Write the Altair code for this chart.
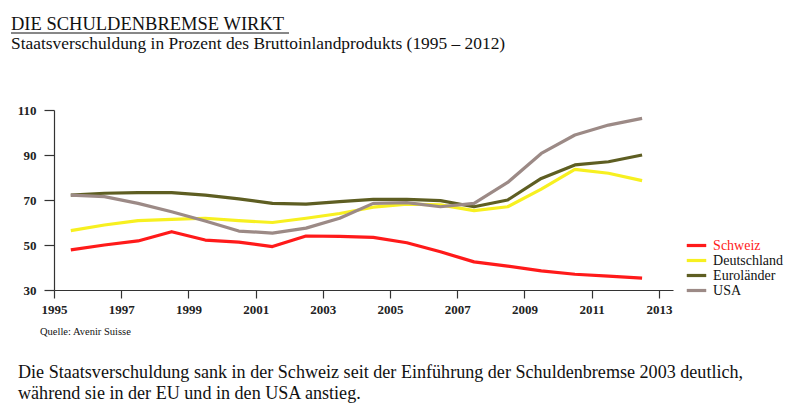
import altair as alt
import pandas as pd

# ---- data -------------------------------------------------------------
jahre = [1995.5, 1996.5, 1997.5, 1998.5, 1999.5, 2000.5, 2001.5, 2002.5, 2003.5,
         2004.5, 2005.5, 2006.5, 2007.5, 2008.5, 2009.5, 2010.5, 2011.5, 2012.5]
schweiz = [47.8, 50.0, 51.8, 55.9, 52.2, 51.3, 49.3, 54.0, 53.8,
           53.4, 51.0, 47.0, 42.5, 40.6, 38.5, 37.0, 36.2, 35.3]
deutschland = [56.4, 58.9, 60.8, 61.4, 61.9, 60.8, 60.0, 61.9, 64.0,
               66.8, 68.2, 67.8, 65.3, 67.0, 74.8, 83.6, 81.9, 78.6]
eurolaender = [72.2, 73.0, 73.3, 73.3, 72.2, 70.5, 68.5, 68.2, 69.3,
               70.3, 70.3, 69.7, 67.0, 70.0, 79.6, 85.6, 87.0, 90.0]
usa = [72.2, 71.5, 68.5, 64.8, 60.7, 56.2, 55.3, 57.5, 61.9,
       68.5, 68.8, 67.0, 68.5, 77.8, 90.7, 98.9, 103.3, 106.3]

serien = ["Schweiz", "Deutschland", "Euroländer", "USA"]
farben = ["#FF1A1A", "#F7F020", "#5E5E22", "#9C8A86"]
breiten = [3.2, 3.2, 4.2, 4.0]

x_ticks = [1995, 1997, 1999, 2001, 2003, 2005, 2007, 2009, 2011, 2013]
y_ticks = [30, 50, 70, 90, 110]

titel = "DIE SCHULDENBREMSE WIRKT"
untertitel = "Staatsverschuldung in Prozent des Bruttoinlandprodukts (1995 – 2012)"
quelle = "Quelle: Avenir Suisse"
text1 = "Die Staatsverschuldung sank in der Schweiz seit der Einführung der Schuldenbremse 2003 deutlich,"
text2 = "während sie in der EU und in den USA anstieg."

rows = []
for name, werte in zip(serien, [schweiz, deutschland, eurolaender, usa]):
    for j, w in zip(jahre, werte):
        rows.append({"land": name, "jahr": j, "wert": w})
df = pd.DataFrame(rows)

FONT = "Liberation Serif"

lines = alt.Chart(df).mark_line(strokeJoin="round", strokeCap="butt").encode(
    x=alt.X("jahr:Q",
            scale=alt.Scale(domain=[1995, 2013.42], nice=False, zero=False),
            axis=alt.Axis(values=x_ticks, format="d", title=None, grid=False,
                          labelFont=FONT, labelFontSize=13, labelFontWeight="bold",
                          labelColor="#222", tickSize=8, tickColor="#333", tickWidth=1.2,
                          domainColor="#333", domainWidth=1.2, labelPadding=5,
                          labelFlush=False)),
    y=alt.Y("wert:Q",
            scale=alt.Scale(domain=[30, 110], nice=False, zero=False),
            axis=alt.Axis(values=y_ticks, title=None, grid=False,
                          labelFont=FONT, labelFontSize=13, labelFontWeight="bold",
                          labelColor="#222", tickSize=10, tickColor="#333", tickWidth=1.2,
                          domainColor="#333", domainWidth=1.2, labelPadding=8)),
    color=alt.Color("land:N",
                    scale=alt.Scale(domain=serien, range=farben),
                    sort=serien,
                    legend=alt.Legend(title=None, orient="none", legendX=634.5, legendY=127.5,
                                      symbolType="M-1.585,0L1.585,0", symbolStrokeWidth=4,
                                      symbolSize=151, labelFont=FONT, labelFontSize=14,
                                      labelOffset=8.6, rowPadding=0,
                                      labelColor=alt.ExprRef(expr="datum.label == 'Schweiz' ? '#FF1A1A' : '#111111'"))),
    strokeWidth=alt.StrokeWidth("land:N", scale=alt.Scale(domain=serien, range=breiten), legend=None),
)


def txt(s, x, y, size, weight="normal", color="#111"):
    return alt.Chart(pd.DataFrame({"t": [s]})).mark_text(
        align="left", baseline="alphabetic", font=FONT, fontSize=size,
        fontWeight=weight, color=color
    ).encode(text="t:N", x=alt.value(x), y=alt.value(y))


title_t = txt(titel, -43, -80, 18.5)
underline = alt.Chart(pd.DataFrame({"a": [0]})).mark_rule(color="#111", strokeWidth=1).encode(
    x=alt.value(-43), x2=alt.value(235), y=alt.value(-77))
sub_t = txt(untertitel, -43, -61, 17.4)
src_t = txt(quelle, -14, 225, 10.5)
b1 = txt(text1, -36, 268, 18.1)
b2 = txt(text2, -36, 289, 18.1)

chart = alt.layer(lines, title_t, underline, sub_t, src_t, b1, b2).properties(
    width=619, height=180,
    padding={"left": 54, "top": 110, "right": 127, "bottom": 127},
    autosize=alt.AutoSizeParams(type="none"),
    background="white",
).configure_view(stroke=None)

chart.save("out.html", embed_options={"renderer": "svg", "actions": False})
